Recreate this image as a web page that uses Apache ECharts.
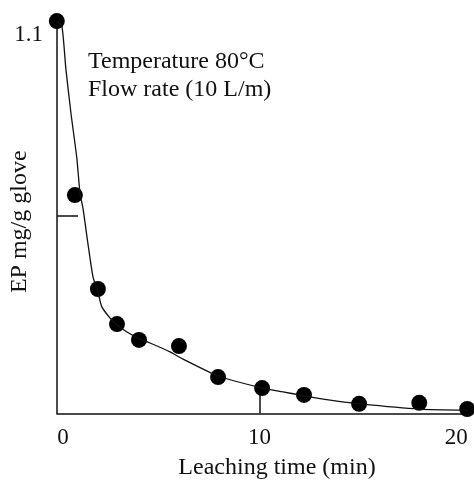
<!DOCTYPE html>
<html>
<head>
<meta charset="utf-8">
<script src="https://cdn.jsdelivr.net/npm/echarts@6/dist/echarts.min.js"></script>
<style>
html,body{margin:0;padding:0;background:#fff;}
#main{width:474px;height:493px;}
</style>
</head>
<body>
<div id="main"></div>
<script>
// Measured points (leaching time in min, EP mg/g glove)
var timeX = [-0.31, 0.61, 1.78, 2.75, 3.87, 5.90, 7.89, 10.13, 12.26, 15.06, 18.12, 20.56];
var epY   = [1.141, 0.635, 0.362, 0.260, 0.214, 0.196, 0.106, 0.074, 0.054, 0.028, 0.031, 0.013];
// Fitted curve
var curveX = [-0.31, -0.05, 0.15, 0.41, 0.71, 0.87, 1.02, 1.27, 1.53, 1.78, 1.98, 2.39, 2.75, 3.26, 3.92, 4.43, 5.45, 6.11, 7.89, 10.13, 11.20, 12.21, 13.59, 15.11, 18.12, 20.56];
var curveY = [1.141, 1.126, 1.003, 0.873, 0.742, 0.640, 0.597, 0.495, 0.397, 0.353, 0.310, 0.278, 0.257, 0.237, 0.216, 0.205, 0.179, 0.158, 0.109, 0.074, 0.063, 0.052, 0.039, 0.028, 0.013, 0.010];
// Tick labels and tick marks
var xLabels = [0, 10, 20];
var xTicks = [10];
var yLabels = [1.1];
var yTicks = [0.574];

var FONT = '"Liberation Serif", "DejaVu Serif", serif';
var chart = echarts.init(document.getElementById('main'));
chart.setOption({
  animation: false,
  backgroundColor: '#fff',
  title: {
    text: 'Temperature 80\u00B0C\nFlow rate (10 L/m)',
    left: 88, top: 48, padding: 0,
    textStyle: {fontFamily: FONT, fontSize: 24, fontWeight: 'normal', color: '#111', lineHeight: 28}
  },
  grid: {left: 57, top: 18, right: 4, bottom: 79.5, containLabel: false, outerBoundsMode: 'none'},
  xAxis: {
    type: 'value', min: -0.3, max: 20.7,
    name: 'Leaching time (min)', nameLocation: 'middle', nameGap: 42, nameMoveOverlap: false,
    nameTextStyle: {fontFamily: FONT, fontSize: 24, color: '#111', padding: [0, 0, 0, 27]},
    axisLine: {show: true, onZero: false, lineStyle: {color: '#111', width: 1.5}},
    axisTick: {show: true, inside: true, length: 20, customValues: xTicks, lineStyle: {color: '#111', width: 1.5}},
    axisLabel: {customValues: xLabels, fontFamily: FONT, fontSize: 23, color: '#111', margin: 13},
    splitLine: {show: false}
  },
  yAxis: {
    type: 'value', min: 0, max: 1.15,
    name: 'EP mg/g glove', nameLocation: 'middle', nameGap: 25, nameRotate: 90, nameMoveOverlap: false,
    nameTextStyle: {fontFamily: FONT, fontSize: 24, color: '#111', padding: [0, 12, 0, 0]},
    axisLine: {show: true, onZero: false, lineStyle: {color: '#111', width: 1.5}},
    axisTick: {show: true, inside: true, length: 21, customValues: yTicks, lineStyle: {color: '#111', width: 1.5}},
    axisLabel: {customValues: yLabels, fontFamily: FONT, fontSize: 23, color: '#111', margin: 14},
    splitLine: {show: false}
  },
  series: [
    {
      type: 'line', data: curveX.map(function (x, i) { return [x, curveY[i]]; }),
      smooth: 0.2, symbol: 'none', clip: false,
      lineStyle: {color: '#111', width: 1.3}
    },
    {
      type: 'scatter', data: timeX.map(function (x, i) { return [x, epY[i]]; }),
      symbol: 'circle', symbolSize: 16, clip: false,
      itemStyle: {color: '#000', opacity: 1}
    }
  ]
});
</script>
</body>
</html>
